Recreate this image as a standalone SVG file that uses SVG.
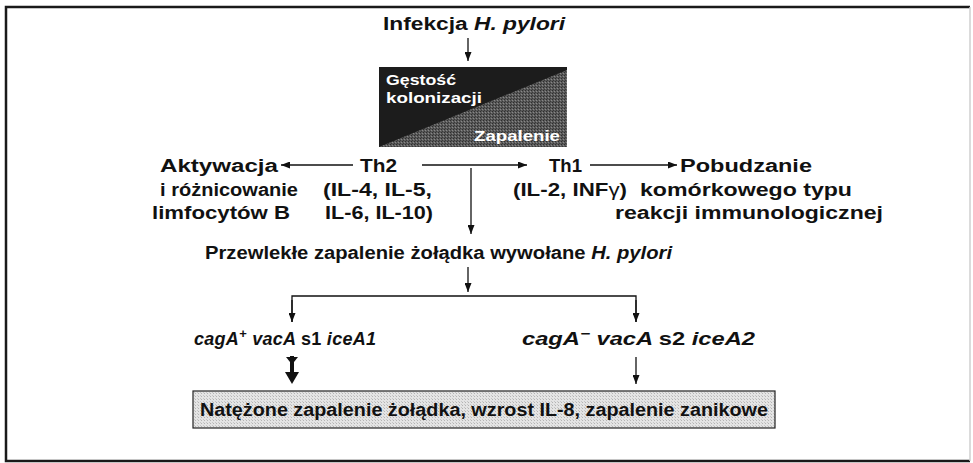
<svg xmlns="http://www.w3.org/2000/svg" width="973" height="463" viewBox="0 0 973 463">
<defs>
<style>
text{font-family:"Liberation Sans","DejaVu Sans",sans-serif;font-weight:bold;fill:#111;}
.t{font-size:18px;}
.w{font-size:15px;fill:#fff;}
.i{font-style:italic;}
.n{font-weight:normal;}
.ln{stroke:#111;stroke-width:1.3;fill:none;}
</style>
<marker id="ah" markerWidth="9" markerHeight="7" refX="9" refY="3.5" orient="auto" markerUnits="userSpaceOnUse">
<path d="M0,0 L9,3.5 L0,7 Z" fill="#111"/>
</marker>
<pattern id="dk" width="3" height="3" patternUnits="userSpaceOnUse">
<rect width="3" height="3" fill="#5a5a5a"/>
<rect width="1" height="1" fill="#2e2e2e"/>
<rect x="2" y="1" width="1" height="1" fill="#888"/>
<rect x="1" y="2" width="1" height="1" fill="#3a3a3a"/>
</pattern>
<pattern id="lt" width="3" height="3" patternUnits="userSpaceOnUse">
<rect width="3" height="3" fill="#e4e4e4"/>
<rect width="1" height="1" fill="#b4b4b4"/>
<rect x="2" y="2" width="1" height="1" fill="#c6c6c6"/>
</pattern>
</defs>
<rect x="6" y="7" width="964" height="454" fill="#fff" stroke="none"/>
<path d="M970,7 L6,7 L6,461 L970,461" fill="none" stroke="#1a1a1a" stroke-width="2.5"/>
<line x1="970" y1="7" x2="970" y2="461" stroke="#cfcfcf" stroke-width="1.5"/>

<g id="infekcja">
<text class="t" x="474" y="30" text-anchor="middle" font-size="19" textLength="182" lengthAdjust="spacingAndGlyphs">Infekcja <tspan class="i">H. pylori</tspan></text>
</g>

<g id="gestosc">
<rect x="379" y="67" width="188" height="80" fill="#1c1c1c"/>
<polygon points="379,147 567,70 567,147" fill="url(#dk)"/>
<text class="w" x="386" y="85" textLength="70" lengthAdjust="spacingAndGlyphs">Gęstość</text>
<text class="w" x="386" y="103" textLength="96" lengthAdjust="spacingAndGlyphs">kolonizacji</text>
<text class="w" x="560" y="141" text-anchor="end" textLength="86" lengthAdjust="spacingAndGlyphs">Zapalenie</text>
</g>

<g id="aktywacja">
<text class="t" x="160" y="172" textLength="118" lengthAdjust="spacingAndGlyphs">Aktywacja</text>
<text class="t" x="160" y="196" textLength="138" lengthAdjust="spacingAndGlyphs">i różnicowanie</text>
<text class="t" x="152" y="219" textLength="138" lengthAdjust="spacingAndGlyphs">limfocytów B</text>
</g>

<g id="th2">
<text class="t" x="360" y="172" textLength="37" lengthAdjust="spacingAndGlyphs">Th2</text>
<text class="t" x="323" y="196" textLength="109" lengthAdjust="spacingAndGlyphs">(IL-4, IL-5,</text>
<text class="t" x="325" y="219" textLength="108" lengthAdjust="spacingAndGlyphs">IL-6, IL-10)</text>
</g>

<g id="th1">
<text class="t" x="549" y="172" textLength="33" lengthAdjust="spacingAndGlyphs">Th1</text>
<text class="t" x="513" y="196" textLength="114" lengthAdjust="spacingAndGlyphs">(IL-2, INF<tspan class="n">γ</tspan>)</text>
</g>

<g id="pobudzanie">
<text class="t" x="680" y="172" textLength="132" lengthAdjust="spacingAndGlyphs">Pobudzanie</text>
<text class="t" x="640" y="196" textLength="212" lengthAdjust="spacingAndGlyphs">komórkowego typu</text>
<text class="t" x="615" y="219" textLength="268" lengthAdjust="spacingAndGlyphs">reakcji immunologicznej</text>
</g>

<g id="przewlekle">
<text class="t" x="205" y="259" textLength="467" lengthAdjust="spacingAndGlyphs">Przewlekłe zapalenie żołądka wywołane <tspan class="i">H. pylori</tspan></text>
</g>

<g id="caga-plus">
<text class="t i" x="194" y="345" textLength="182" lengthAdjust="spacing">cagA<tspan dy="-7" font-size="13">+</tspan><tspan dy="7"> vacA </tspan><tspan font-style="normal">s1 </tspan>iceA1</text>
</g>

<g id="caga-minus">
<text class="t i" x="522" y="345" textLength="233" lengthAdjust="spacingAndGlyphs">cagA<tspan dy="-7" font-size="13">−</tspan><tspan dy="7"> vacA </tspan><tspan font-style="normal">s2 </tspan>iceA2</text>
</g>

<g id="natezone">
<rect x="193" y="391" width="582" height="37" fill="url(#lt)" stroke="#222" stroke-width="1.2"/>
<text class="t" x="200" y="416" textLength="568" lengthAdjust="spacingAndGlyphs">Natężone zapalenie żołądka, wzrost IL-8, zapalenie zanikowe</text>
</g>

<g id="connectors">
<line class="ln" x1="468" y1="38" x2="468" y2="61" marker-end="url(#ah)"/>
<line class="ln" x1="353" y1="165" x2="281" y2="165" marker-end="url(#ah)"/>
<line class="ln" x1="422" y1="165" x2="527" y2="165" marker-end="url(#ah)"/>
<line class="ln" x1="590" y1="165" x2="677" y2="165" marker-end="url(#ah)"/>
<line class="ln" x1="471" y1="168" x2="471" y2="234" marker-end="url(#ah)"/>
<line class="ln" x1="468" y1="267" x2="468" y2="292" marker-end="url(#ah)"/>
<polyline class="ln" points="292,322 292,296 636,296 636,322"/>
<line class="ln" x1="292" y1="300" x2="292" y2="322" marker-end="url(#ah)"/>
<line class="ln" x1="636" y1="300" x2="636" y2="322" marker-end="url(#ah)"/>
<line stroke="#111" stroke-width="4" x1="292" y1="356" x2="292" y2="374"/>
<path d="M286,357 L298,357 L294,362 L290,362 Z" fill="#111"/>
<path d="M285,372 L299,372 L292,384 Z" fill="#111"/>
<line class="ln" x1="636" y1="357" x2="636" y2="384" marker-end="url(#ah)"/>
</g>
</svg>
